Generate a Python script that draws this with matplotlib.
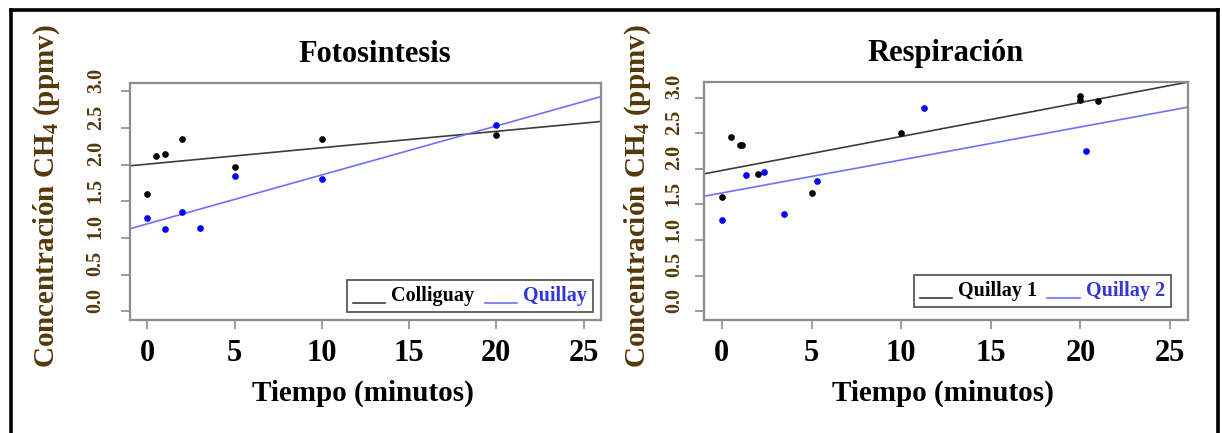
import matplotlib
matplotlib.use("Agg")
import matplotlib.pyplot as plt
import matplotlib.transforms as mtrans
import numpy as np
from matplotlib.lines import Line2D
from matplotlib.legend_handler import HandlerLine2D

plt.rcParams["font.family"] = ["Liberation Serif", "DejaVu Serif"]
plt.rcParams["font.weight"] = "bold"
plt.rcParams["mathtext.fontset"] = "custom"
plt.rcParams["mathtext.rm"] = "Liberation Serif:bold"
plt.rcParams["mathtext.bf"] = "Liberation Serif:bold"
plt.rcParams["mathtext.it"] = "Liberation Serif:bold"

# Fotosintesis
foto_t_colliguay = [0, 0.5, 1, 2, 5, 10, 20]
foto_c_colliguay = [1.60, 2.12, 2.15, 2.35, 1.97, 2.35, 2.40]
foto_t_quillay = [0, 1, 2, 3, 5, 10, 20]
foto_c_quillay = [1.27, 1.12, 1.36, 1.13, 1.85, 1.80, 2.54]
foto_fit_intercept = [2.008, 1.193]   # Colliguay, Quillay
foto_fit_slope = [0.0224, 0.0668]

# Respiracion
resp_t_quillay1 = [0, 0.5, 1, 1.1, 2, 5, 10, 20, 20, 21]
resp_c_quillay1 = [1.60, 2.45, 2.34, 2.34, 1.93, 1.66, 2.50, 3.03, 2.97, 2.96]
resp_t_quillay2 = [0, 1.35, 2.37, 3.47, 5.33, 11.3, 20.3]
resp_c_quillay2 = [1.28, 1.92, 1.96, 1.37, 1.83, 2.86, 2.25]
resp_fit_intercept = [1.978, 1.662]   # Quillay 1, Quillay 2
resp_fit_slope = [0.0478, 0.0464]

x_ticks = [0, 5, 10, 15, 20, 25]
y_ticks = [0.0, 0.5, 1.0, 1.5, 2.0, 2.5, 3.0]


class BaseLineHandler(HandlerLine2D):
    # legend line drawn at the text baseline, like an underscore
    def create_artists(self, legend, orig_handle, xdescent, ydescent,
                       width, height, fontsize, trans):
        arts = super().create_artists(legend, orig_handle, xdescent, ydescent,
                                      width, height, fontsize, trans)
        for a in arts:
            a.set_ydata(np.zeros_like(a.get_ydata()) - 0.1 * fontsize)
        return arts


fig = plt.figure(figsize=(12.22, 4.33), dpi=100)

panels = [
    dict(rect=[0.1064, 0.261, 0.3854, 0.548], title="Fotosintesis", tx=0.52,
         ylim=(0, 3.0), series=[(foto_t_colliguay, foto_c_colliguay),
                                (foto_t_quillay, foto_c_quillay)],
         icpt=foto_fit_intercept, slope=foto_fit_slope,
         labels=["Colliguay", "Quillay"], ylx=-0.176, ypad=11,
         leg=(0.461, 0.034)),
    dict(rect=[0.5761, 0.261, 0.3961, 0.550], title="Respiración", tx=0.50,
         ylim=(0, 3.1), series=[(resp_t_quillay1, resp_c_quillay1),
                                (resp_t_quillay2, resp_c_quillay2)],
         icpt=resp_fit_intercept, slope=resp_fit_slope,
         labels=["Quillay 1", "Quillay 2"], ylx=-0.136, ypad=8,
         leg=(0.434, 0.055)),
]

pt_colors = ["black", "#0000ff"]
line_colors = ["#3c3c3c", "#7070ff"]
text_colors = ["black", "#3535d8"]
label_brown = "#55380a"

for p in panels:
    ax = fig.add_axes(p["rect"])
    xr = np.array([-1, 26])
    handles = []
    for i, (t, c) in enumerate(p["series"]):
        ax.plot(t, c, "o", ms=3.8, color=pt_colors[i], zorder=3)
        h, = ax.plot(xr, p["icpt"][i] + p["slope"][i] * xr,
                     color=line_colors[i], lw=1.2)
        handles.append(h)
    d = p["ylim"][1] - p["ylim"][0]
    ax.set_xlim(-1, 26)
    ax.set_ylim(p["ylim"][0] - 0.04 * d, p["ylim"][1] + 0.04 * d)
    ax.set_xticks(x_ticks)
    ax.set_yticks(y_ticks)
    ax.set_yticklabels([f"{v:.1f}" for v in y_ticks])
    for s in ax.spines.values():
        s.set_color("#8c8c8c")
        s.set_linewidth(1.6)
    ax.tick_params(axis="both", direction="out", length=6.5, width=1.2,
                   color="#8c8c8c")
    ax.tick_params(axis="x", labelsize=22, pad=7)
    ax.tick_params(axis="y", labelsize=14.5, pad=p["ypad"], labelrotation=90,
                   labelcolor=label_brown)
    shift_up = mtrans.ScaledTranslation(0, 0.11, fig.dpi_scale_trans)
    for lbl in ax.get_yticklabels():
        lbl.set_va("center")
        lbl.set_transform(lbl.get_transform() + shift_up)

    ax.text(p["tx"], 1.117, p["title"], transform=ax.transAxes,
            ha="center", va="center", fontsize=22, fontweight="bold")
    ax.set_xlabel("Tiempo (minutos)", fontsize=21, fontweight="bold", va="center")
    ax.xaxis.set_label_coords(0.494, -0.308)
    ax.set_ylabel("Concentración CH$_4$ (ppmv)", fontsize=21,
                  fontweight="bold", color=label_brown, va="center")
    ax.yaxis.set_label_coords(p["ylx"], 0.52)

    leg = ax.legend(handles, p["labels"], ncol=2, loc="lower left",
                    bbox_to_anchor=p["leg"],
                    fontsize=14.5, frameon=True, fancybox=False,
                    handlelength=1.6, handletextpad=0.3, columnspacing=0.5,
                    borderpad=0.3, borderaxespad=0, labelcolor=text_colors,
                    handler_map={Line2D: BaseLineHandler()})
    leg.get_frame().set_edgecolor("#303030")
    leg.get_frame().set_linewidth(1.3)

# outer frame (top, left, right)
frame_kw = dict(color="black", lw=2.6, transform=fig.transFigure)
fig.add_artist(Line2D([10.5 / 1222, 10.5 / 1222], [0, 1 - 9.5 / 433], **frame_kw))
fig.add_artist(Line2D([10.5 / 1222, 1217.5 / 1222], [1 - 9.5 / 433, 1 - 9.5 / 433], **frame_kw))
fig.add_artist(Line2D([1217.5 / 1222, 1217.5 / 1222], [0, 1 - 9.5 / 433], **frame_kw))

fig.savefig("out.png", dpi=100)
